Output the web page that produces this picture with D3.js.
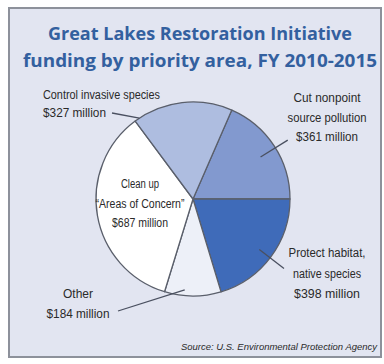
<!DOCTYPE html>
<html>
<head>
<meta charset="utf-8">
<script src="https://cdn.jsdelivr.net/npm/d3@7"></script>
<style>
  html, body { margin: 0; padding: 0; background: #ffffff; }
  svg { display: block; }
</style>
</head>
<body>
<svg id="chart" width="384" height="364"></svg>
<script>
// ---- data ----
const titleLines = ["Great Lakes Restoration Initiative", "funding by priority area, FY 2010-2015"];
const categories = ["Cut nonpoint source pollution", "Protect habitat, native species", "Other", "Clean up \u201cAreas of Concern\u201d", "Control invasive species"];
const values = [361, 398, 184, 687, 327];
const labelLines = [
  ["Cut nonpoint", "source pollution", "$361 million"],
  ["Protect habitat,", "native species", "$398 million"],
  ["Other", "$184 million"],
  ["Clean up", "\u201cAreas of Concern\u201d", "$687 million"],
  ["Control invasive species", "$327 million"]
];
const sourceText = "Source: U.S. Environmental Protection Agency";

// ---- layout / style ----
const W = 384, H = 364;
const cx = 193, cy = 199, R = 97;
const colors = ["#8299cf", "#3f6bb9", "#edf0f8", "#ffffff", "#aebde0"];
const labelFont = "'Liberation Sans Narrow', 'Arial Narrow', 'Liberation Sans', sans-serif";
// rendered widths of each label line (condensed face in the original)
const labelWidths = [
  [67, 79, 62],
  [77, 68, 66],
  [30, 63],
  [38, 89, 56],
  [117, 63]
];
const titleWidths = [304, 354];

const svg = d3.select("#chart");

// panel
svg.append("rect")
  .attr("x", 9).attr("y", 8).attr("width", 372).attr("height", 349)
  .attr("fill", "#e2e5f1")
  .attr("stroke", "#8d919b").attr("stroke-width", 2);

// title
svg.append("g").selectAll("text").data(titleLines).join("text")
  .attr("x", 200).attr("y", (d, i) => 40 + i * 27)
  .attr("text-anchor", "middle")
  .attr("font-family", "'Open Sans', sans-serif")
  .attr("font-weight", "bold")
  .attr("font-size", 17.5)
  .attr("fill", "#33609f")
  .attr("textLength", (d, i) => titleWidths[i])
  .attr("lengthAdjust", "spacingAndGlyphs")
  .text(d => d);

// pie: the boundary between first and second slice points due east (3 o'clock)
const total = d3.sum(values);
const start = Math.PI / 2 - values[0] / total * 2 * Math.PI;
const pie = d3.pie().sort(null).startAngle(start).endAngle(start + 2 * Math.PI);
const arcs = pie(values);
const arc = d3.arc().innerRadius(0).outerRadius(R);

const g = svg.append("g").attr("transform", `translate(${cx},${cy})`);
g.selectAll("path").data(arcs).join("path")
  .attr("d", arc)
  .attr("fill", (d, i) => colors[i])
  .attr("stroke", "#5a5f6b")
  .attr("stroke-width", 1.3)
  .attr("stroke-linejoin", "round");

// leader lines: defined by fraction within slice angle + radii, then to label anchors
const polar = (a, r) => [cx + r * Math.sin(a), cy - r * Math.cos(a)];
const leaderSpec = [
  { i: 0, t: 0.52, r0: 0.82, r1: 1.15 },
  { i: 1, t: 0.51, r0: 0.86, r1: 1.18 },
  { i: 2, t: 0.65, r0: 0.94, elbow: [118, 311] },
  { i: 4, t: 0.05, r0: 1.0, elbow: [112, 113] }
];
const leaders = leaderSpec.map(s => {
  const a0 = arcs[s.i].startAngle, a1 = arcs[s.i].endAngle;
  const a = a0 + (a1 - a0) * s.t;
  const p0 = polar(a, s.r0 * R);
  const p1 = s.elbow ? s.elbow : polar(a, s.r1 * R);
  return [p0, p1];
});
svg.append("g").selectAll("line").data(leaders).join("line")
  .attr("x1", d => d[0][0]).attr("y1", d => d[0][1])
  .attr("x2", d => d[1][0]).attr("y2", d => d[1][1])
  .attr("stroke", "#4a5060").attr("stroke-width", 1.3);

// labels
const labelPos = [
  { x: 327, y: 102, anchor: "middle", dy: 19.5 },
  { x: 327, y: 257, anchor: "middle", dy: 20.5 },
  { x: 78, y: 298, anchor: "middle", dy: 20 },
  { x: 140, y: 188, anchor: "middle", dy: 19.5 },
  { x: 43, y: 99, anchor: "start", dy: 18 }
];
const lg = svg.append("g")
  .attr("font-family", labelFont)
  .attr("font-size", 12.5)
  .attr("fill", "#2a2a2a");
labelLines.forEach((lines, i) => {
  const p = labelPos[i];
  lines.forEach((line, k) => {
    lg.append("text")
      .attr("x", p.x).attr("y", p.y + k * p.dy)
      .attr("text-anchor", p.anchor)
      .attr("textLength", labelWidths[i][k])
      .attr("lengthAdjust", "spacingAndGlyphs")
      .text(line);
  });
});

// source
svg.append("text")
  .attr("x", 377).attr("y", 350)
  .attr("text-anchor", "end")
  .attr("font-family", labelFont)
  .attr("font-style", "italic")
  .attr("font-size", 9.8)
  .attr("fill", "#2a2a2a")
  .attr("textLength", 196)
  .attr("lengthAdjust", "spacingAndGlyphs")
  .text(sourceText);
</script>
</body>
</html>
